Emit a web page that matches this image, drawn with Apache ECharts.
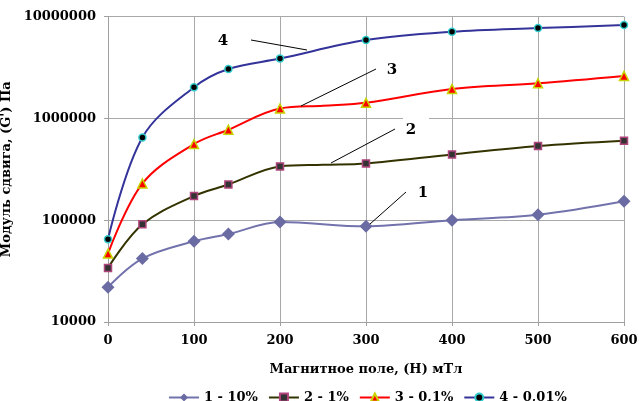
<!DOCTYPE html>
<html>
<head>
<meta charset="utf-8">
<script src="https://cdn.jsdelivr.net/npm/echarts@6/dist/echarts.min.js"></script>
<style>html,body{margin:0;padding:0;background:#fff}#c{width:639px;height:401px}</style>
</head>
<body>
<div id="c"></div>
<script>
// ---- data ----
const seriesNames = ['1 - 10%', '2 - 1%', '3 - 0,1%', '4 - 0,01%'];
const markedX = [0, 40, 100, 140, 200, 300, 400, 500, 600];
const xs1 = [0, 40, 100, 140, 200, 300, 400, 500, 600];
const g1  = [22000, 42000, 62000, 73000, 96000, 87000, 100000, 113000, 153000];
const xs2 = [0, 40, 100, 140, 200, 250, 300, 400, 500, 600];
const g2  = [34000, 91000, 173000, 224000, 337000, 350000, 361000, 442000, 534000, 602000];
const xs3 = [0, 40, 100, 140, 200, 250, 300, 400, 500, 600];
const g3  = [47000, 229000, 559000, 773000, 1250000, 1330000, 1420000, 1940000, 2210000, 2610000];
const xs4 = [0, 40, 100, 140, 200, 300, 400, 500, 600];
const g4  = [65000, 650000, 2020000, 3050000, 3860000, 5870000, 7080000, 7690000, 8230000];
const xTicks = [0, 100, 200, 300, 400, 500, 600];
const yTicks = [10000, 100000, 1000000, 10000000];
const xTitle = 'Магнитное поле, (Н) мТл';
const yTitle = "Модуль сдвига, (G') Па";
const annotations = ['1', '2', '3', '4'];

const FONT = 'DejaVu Serif';
function build(xs, g, sym) {
  return xs.map((x, i) => ({ value: [x, g[i]], symbol: markedX.includes(x) ? sym : 'none' }));
}
const styles = [
  { sym: 'diamond', size: 13, fill: '#6B6BA3', border: '#6B6BA3', bw: 0, line: '#7272AC' },
  { sym: 'rect', size: 7, fill: '#333333', border: '#B0447C', bw: 1.5, line: '#333300' },
  { sym: 'triangle', size: 9, fill: '#FF0000', border: '#C8D400', bw: 1.5, line: '#FF0000' },
  { sym: 'circle', size: 7, fill: '#000000', border: '#33CCCC', bw: 1.5, line: '#333399' }
];
const allX = [xs1, xs2, xs3, xs4];
const allG = [g1, g2, g3, g4];

const chart = echarts.init(document.getElementById('c'));
const txt = { fontFamily: FONT, fontWeight: 'bold', fontSize: 13, color: '#000' };
chart.setOption({
  animation: false,
  grid: { left: 108, right: 15, top: 16.5, bottom: 79, containLabel: false, outerBoundsMode: 'none' },
  xAxis: {
    type: 'value', min: 0, max: 600, interval: 100,
    name: xTitle, nameLocation: 'middle', nameGap: 41,
    nameTextStyle: txt,
    axisLine: { lineStyle: { color: '#A0A0A0', width: 1 } },
    axisTick: { show: true, length: 4, lineStyle: { color: '#A0A0A0' } },
    axisLabel: Object.assign({ margin: 12 }, txt),
    splitLine: { show: true, lineStyle: { color: '#A8A8A8', width: 1 } }
  },
  yAxis: {
    type: 'log', logBase: 10, min: yTicks[0], max: yTicks[yTicks.length - 1],
    name: yTitle, nameLocation: 'middle', nameGap: 91, nameRotate: 90,
    nameTextStyle: txt,
    axisLine: { show: true, lineStyle: { color: '#A0A0A0', width: 1 } },
    axisTick: { show: true, length: 4, lineStyle: { color: '#A0A0A0' } },
    axisLabel: Object.assign({ margin: 12, formatter: v => String(Math.round(v)) }, txt),
    splitLine: { show: true, lineStyle: { color: '#A8A8A8', width: 1 } },
    minorTick: { show: false }
  },
  legend: {
    left: 163, top: 386, itemWidth: 30, itemHeight: 10, itemGap: 10,
    textStyle: Object.assign({}, txt),
    data: seriesNames
  },
  series: seriesNames.map((n, k) => ({
    name: n, type: 'line', smooth: 0.35,
    symbol: styles[k].sym, symbolSize: styles[k].size, showAllSymbol: true,
    lineStyle: { color: styles[k].line, width: 2 },
    itemStyle: { color: styles[k].fill, borderColor: styles[k].border, borderWidth: styles[k].bw },
    z: 2 + k,
    data: build(allX[k], allG[k], styles[k].sym)
  })),
  graphic: [
    { type: 'rect', shape: { x: 403, y: 116.5, width: 26, height: 3 }, style: { fill: '#fff' }, z: 1 },
    { type: 'line', shape: { x1: 251, y1: 40, x2: 307, y2: 50 }, style: { stroke: '#000', lineWidth: 1 }, z: 10 },
    { type: 'line', shape: { x1: 376, y1: 69, x2: 301, y2: 106 }, style: { stroke: '#000', lineWidth: 1 }, z: 10 },
    { type: 'line', shape: { x1: 395, y1: 129, x2: 331, y2: 163 }, style: { stroke: '#000', lineWidth: 1 }, z: 10 },
    { type: 'line', shape: { x1: 406, y1: 192, x2: 370, y2: 224 }, style: { stroke: '#000', lineWidth: 1 }, z: 10 },
    { type: 'text', x: 223, y: 41, style: { text: annotations[3], font: 'bold 15px "DejaVu Serif"', fill: '#000', textAlign: 'center', textVerticalAlign: 'middle' }, z: 10 },
    { type: 'text', x: 392, y: 70, style: { text: annotations[2], font: 'bold 15px "DejaVu Serif"', fill: '#000', textAlign: 'center', textVerticalAlign: 'middle' }, z: 10 },
    { type: 'text', x: 411, y: 130, style: { text: annotations[1], font: 'bold 15px "DejaVu Serif"', fill: '#000', textAlign: 'center', textVerticalAlign: 'middle' }, z: 10 },
    { type: 'text', x: 423, y: 193, style: { text: annotations[0], font: 'bold 15px "DejaVu Serif"', fill: '#000', textAlign: 'center', textVerticalAlign: 'middle' }, z: 10 }
  ]
});
</script>
</body>
</html>
